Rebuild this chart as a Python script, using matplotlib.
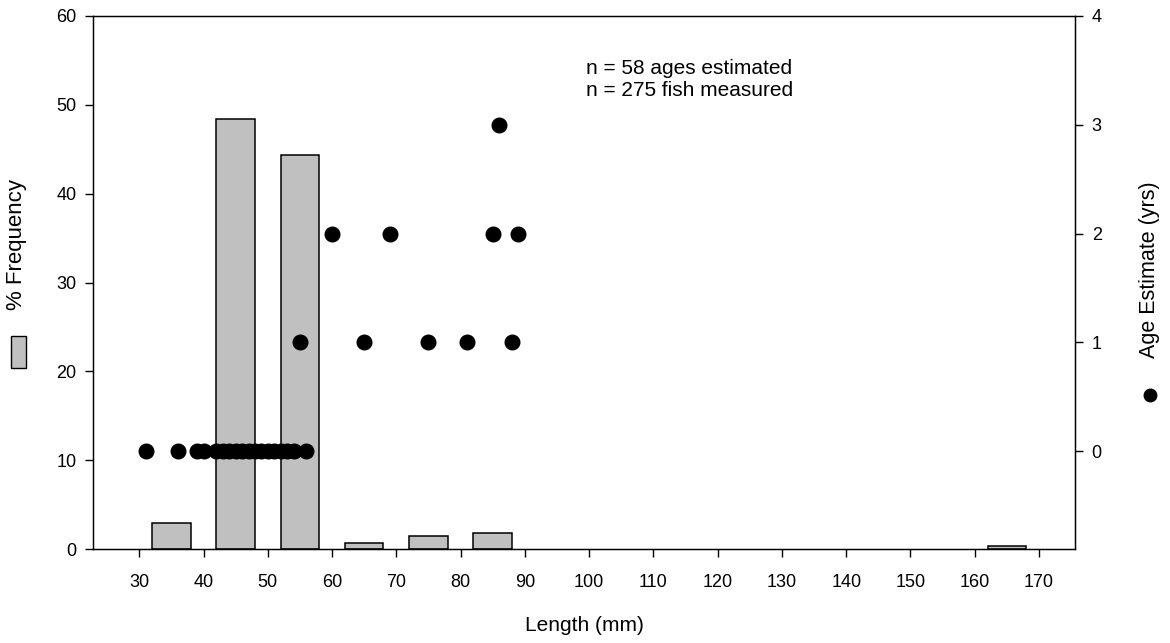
import matplotlib
matplotlib.use("Agg")
import matplotlib.pyplot as plt
from matplotlib.patches import Rectangle
from matplotlib.lines import Line2D

plt.rcParams['font.family'] = ['Liberation Sans', 'DejaVu Sans']

# Length-frequency histogram (10 mm bins, % of fish measured)
bin_centers = [35, 45, 55, 65, 75, 85, 165]
pct_frequency = [2.9, 48.4, 44.4, 0.7, 1.45, 1.8, 0.36]

# Individual age estimates by length
age_lengths = [31, 36, 39, 40, 42, 43, 44, 45, 46, 47, 48, 49, 50, 51, 52, 53, 54, 56,
               55, 65, 75, 81, 88,
               60, 69, 85, 89,
               86]
age_values = [0] * 18 + [1] * 5 + [2] * 4 + [3]

x_ticks = list(range(30, 171, 10))
left_ticks = [0, 10, 20, 30, 40, 50, 60]
right_ticks = [0, 1, 2, 3, 4]

fig = plt.figure(figsize=(11.7, 6.43), dpi=100)
ax = fig.add_axes([93 / 1170, 1 - 549 / 643, (1075 - 93) / 1170, (549 - 16) / 643])

ax.bar(bin_centers, pct_frequency, width=6, color='#c0c0c0', edgecolor='black',
       linewidth=1.1, zorder=2)
ax.set_xlim(22.8, 175.6)
ax.set_ylim(0, 60)
ax.set_xticks(x_ticks)
ax.set_yticks(left_ticks)
ax.tick_params(axis='both', direction='out', length=6, width=1, labelsize=13, pad=6)
ax.tick_params(axis='x', pad=12)
ax.set_xlabel('Length (mm)', fontsize=15, labelpad=18)
for s in ax.spines.values():
    s.set_linewidth(1)

ax2 = ax.twinx()
ax2.plot(age_lengths, age_values, 'o', color='black', markersize=10.5, zorder=3)
ax2.set_ylim(-0.9, 4)
ax2.set_yticks(right_ticks)
ax2.tick_params(axis='y', direction='out', length=6, width=1, labelsize=13, pad=6)
ax2.set_xlim(22.8, 175.6)

# Axis titles with their series symbols
fig.text(17 / 1170, 1 - 245 / 643, '% Frequency', rotation=90, fontsize=16,
         ha='center', va='center')
fig.patches.append(Rectangle((11 / 1170, 1 - 368 / 643), 15 / 1170, 32 / 643,
                             transform=fig.transFigure, facecolor='#c0c0c0',
                             edgecolor='black', linewidth=1))
fig.text(1150 / 1170, 1 - 270 / 643, 'Age Estimate (yrs)', rotation=90, fontsize=15.5,
         ha='center', va='center')
fig.lines.append(Line2D([1150 / 1170], [1 - 395 / 643], marker='o', color='black',
                        markersize=9, transform=fig.transFigure))

ax.text(586 / 1170, 1 - 68 / 643, 'n = 58 ages estimated', transform=fig.transFigure,
        fontsize=15, ha='left', va='center')
ax.text(586 / 1170, 1 - 91 / 643, 'n = 275 fish measured', transform=fig.transFigure,
        fontsize=15, ha='left', va='center')

fig.savefig('out.png', dpi=100)
